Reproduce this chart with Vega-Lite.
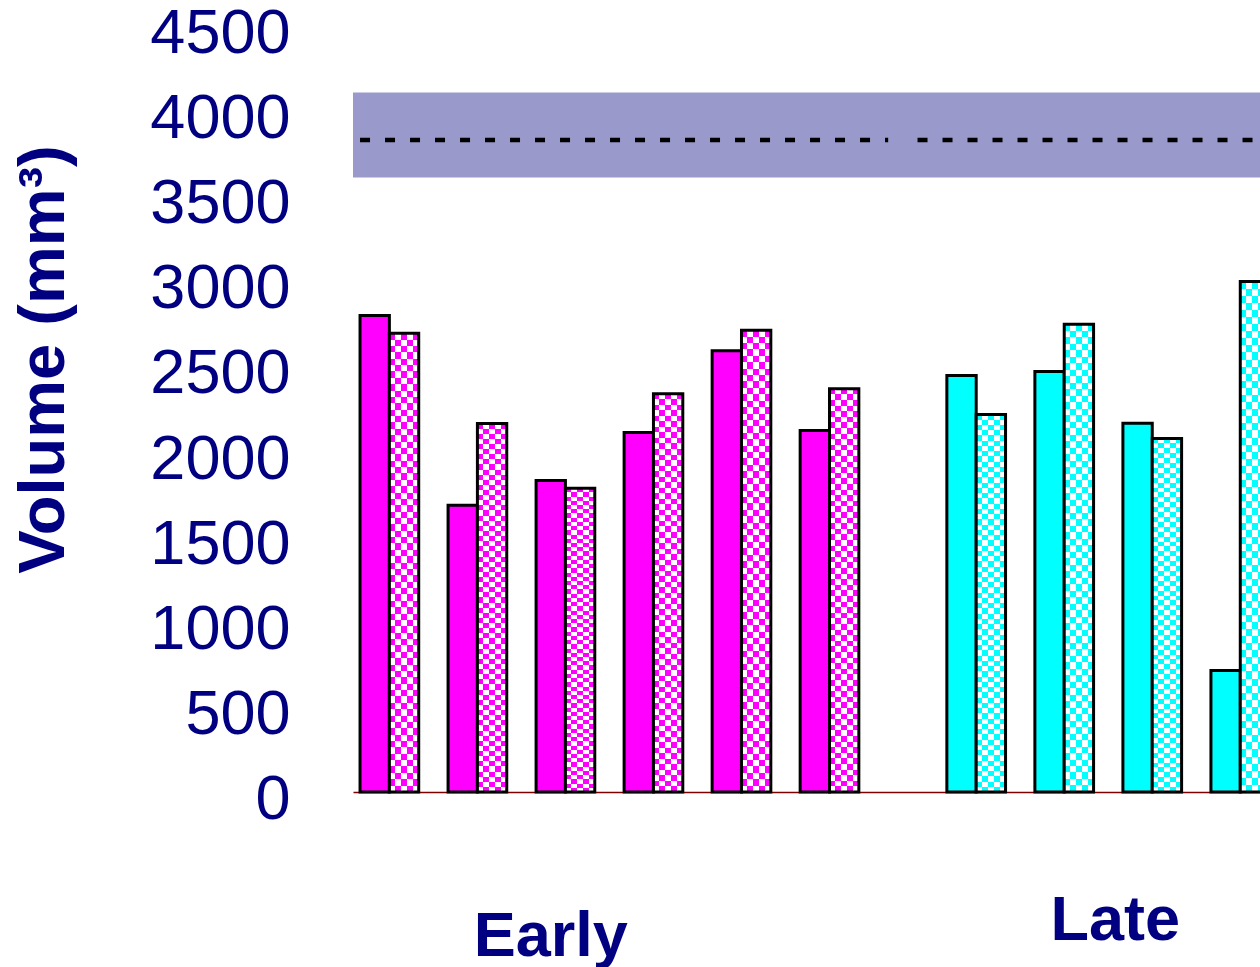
{
  "$schema": "https://vega.github.io/schema/vega-lite/v6.json",
  "autosize": {"type": "none"},
  "padding": {"left": 353, "top": 26, "right": -46, "bottom": 175},
  "width": 953,
  "height": 766,
  "background": "white",
  "config": {"view": {"stroke": null}, "font": "Liberation Sans"},
  "layer": [
    {
      "data": {"values": [{"lo": 3610, "hi": 4110}]},
      "mark": {"type": "rect", "color": "#9999CC"},
      "encoding": {
        "y": {"field": "lo", "type": "quantitative", "title": "Volume (mm³)", "scale": {"domain": [0, 4500], "nice": false, "zero": true}},
        "y2": {"field": "hi"}
      }
    },
    {
      "data": {"values": [{"x0": "E1a", "x1": "E6x", "mean": 3830}, {"x0": "G2", "x1": "L4x", "mean": 3830}]},
      "mark": {"type": "rule", "color": "black", "strokeWidth": 4.5, "strokeDash": [10, 15]},
      "encoding": {
        "x": {"field": "x0", "type": "nominal", "bandPosition": 0, "title": null,
          "scale": {"domain": ["E1a","E1b","E1x","E2a","E2b","E2x","E3a","E3b","E3x","E4a","E4b","E4x","E5a","E5b","E5x","E6a","E6b","E6x","G1","G2","L1a","L1b","L1x","L2a","L2b","L2x","L3a","L3b","L3x","L4a","L4b","L4x"], "paddingInner": 0, "paddingOuter": 0.24}},
        "x2": {"field": "x1", "bandPosition": 1},
        "y": {"field": "mean", "type": "quantitative", "title": "Volume (mm³)"}
      }
    },
    {
      "data": {"values": [
        {"bar": "E1a", "group": "Early", "visit": 1, "volume": 2800},
        {"bar": "E1b", "group": "Early", "visit": 2, "volume": 2695},
        {"bar": "E2a", "group": "Early", "visit": 1, "volume": 1685},
        {"bar": "E2b", "group": "Early", "visit": 2, "volume": 2165},
        {"bar": "E3a", "group": "Early", "visit": 1, "volume": 1830},
        {"bar": "E3b", "group": "Early", "visit": 2, "volume": 1785},
        {"bar": "E4a", "group": "Early", "visit": 1, "volume": 2112},
        {"bar": "E4b", "group": "Early", "visit": 2, "volume": 2340},
        {"bar": "E5a", "group": "Early", "visit": 1, "volume": 2592},
        {"bar": "E5b", "group": "Early", "visit": 2, "volume": 2713},
        {"bar": "E6a", "group": "Early", "visit": 1, "volume": 2124},
        {"bar": "E6b", "group": "Early", "visit": 2, "volume": 2369},
        {"bar": "L1a", "group": "Late", "visit": 1, "volume": 2447},
        {"bar": "L1b", "group": "Late", "visit": 2, "volume": 2218},
        {"bar": "L2a", "group": "Late", "visit": 1, "volume": 2471},
        {"bar": "L2b", "group": "Late", "visit": 2, "volume": 2748},
        {"bar": "L3a", "group": "Late", "visit": 1, "volume": 2167},
        {"bar": "L3b", "group": "Late", "visit": 2, "volume": 2077},
        {"bar": "L4a", "group": "Late", "visit": 1, "volume": 714},
        {"bar": "L4b", "group": "Late", "visit": 2, "volume": 2999}
      ]},
      "encoding": {
        "x": {
          "field": "bar", "type": "nominal", "title": null,
          "scale": {"domain": ["E1a","E1b","E1x","E2a","E2b","E2x","E3a","E3b","E3x","E4a","E4b","E4x","E5a","E5b","E5x","E6a","E6b","E6x","G1","G2","L1a","L1b","L1x","L2a","L2b","L2x","L3a","L3b","L3x","L4a","L4b","L4x"], "paddingInner": 0, "paddingOuter": 0.24},
          "axis": {
            "title": null, "ticks": false, "tickSize": 0, "grid": false,
            "domainColor": "#800000", "domainWidth": 1.5,
            "labelExpr": "datum.value == 'E3a' ? 'Early' : (datum.value == 'L2x' ? 'Late' : '')",
            "labelFont": "Liberation Sans", "labelFontSize": 63, "labelFontWeight": "bold", "labelColor": "#000080",
            "labelAngle": 0, "labelAlign": "center", "labelBaseline": "alphabetic",
            "labelPadding": {"condition": {"test": "datum.value == 'L2x'", "value": 147}, "value": 163},
            "labelOffset": {"condition": {"test": "datum.value == 'L2x'", "value": 7}, "value": 0},
            "labelOverlap": false, "labelBound": false, "labelFlush": false, "labelLimit": 0
          }
        },
        "y": {
          "field": "volume", "type": "quantitative", "title": "Volume (mm³)",
          "scale": {"domain": [0, 4500], "nice": false, "zero": true},
          "axis": {
            "values": [0, 500, 1000, 1500, 2000, 2500, 3000, 3500, 4000, 4500], "format": "d",
            "ticks": false, "domain": false, "grid": false,
            "labelFont": "Liberation Sans", "labelFontSize": 63, "labelColor": "#000080",
            "labelPadding": 63, "labelOffset": 7.5, "labelFlush": false, "labelBound": false, "labelOverlap": false,
            "titleFont": "Liberation Sans", "titleFontSize": 65, "titleFontWeight": "bold", "titleColor": "#000080",
            "titleX": -290, "titleY": 333, "titleBaseline": "alphabetic", "titleAngle": -90, "titleAlign": "center"
          }
        }
      },
      "layer": [
        {
          "transform": [{"filter": "datum.visit == 1"}],
          "mark": {"type": "bar", "stroke": "black", "strokeWidth": 3},
          "encoding": {
            "fill": {"field": "group", "type": "nominal", "legend": null,
              "scale": {"domain": ["Early", "Late"], "range": ["#FF00FF", "#00FFFF"]}}
          }
        },
        {
          "transform": [{"filter": "datum.visit == 2"}],
          "mark": {"type": "bar", "strokeWidth": 0,
            "fill": {"gradient": "linear", "x1": 0, "y1": 0, "x2": 1, "y2": 0, "stops": [
              {"offset": 0, "color": "black"}, {"offset": 0.2, "color": "black"},
              {"offset": 0.2, "color": "white"}, {"offset": 0.4, "color": "white"},
              {"offset": 0.4, "color": "black"}, {"offset": 0.6, "color": "black"},
              {"offset": 0.6, "color": "white"}, {"offset": 0.8, "color": "white"},
              {"offset": 0.8, "color": "black"}, {"offset": 1, "color": "black"}
            ]}}
        },
        {
          "transform": [{"filter": "datum.visit == 2"}],
          "mark": {"type": "bar", "strokeWidth": 0, "blend": "difference",
            "fill": {"gradient": "linear", "x1": 0, "y1": 0, "x2": 0, "y2": 1, "stops": [
              {"offset": 0, "color": "black"},
              {"offset": 0.0139, "color": "black"}, {"offset": 0.0139, "color": "white"},
              {"offset": 0.0278, "color": "white"}, {"offset": 0.0278, "color": "black"},
              {"offset": 0.0417, "color": "black"}, {"offset": 0.0417, "color": "white"},
              {"offset": 0.0556, "color": "white"}, {"offset": 0.0556, "color": "black"},
              {"offset": 0.0694, "color": "black"}, {"offset": 0.0694, "color": "white"},
              {"offset": 0.0833, "color": "white"}, {"offset": 0.0833, "color": "black"},
              {"offset": 0.0972, "color": "black"}, {"offset": 0.0972, "color": "white"},
              {"offset": 0.1111, "color": "white"}, {"offset": 0.1111, "color": "black"},
              {"offset": 0.125, "color": "black"}, {"offset": 0.125, "color": "white"},
              {"offset": 0.1389, "color": "white"}, {"offset": 0.1389, "color": "black"},
              {"offset": 0.1528, "color": "black"}, {"offset": 0.1528, "color": "white"},
              {"offset": 0.1667, "color": "white"}, {"offset": 0.1667, "color": "black"},
              {"offset": 0.1806, "color": "black"}, {"offset": 0.1806, "color": "white"},
              {"offset": 0.1944, "color": "white"}, {"offset": 0.1944, "color": "black"},
              {"offset": 0.2083, "color": "black"}, {"offset": 0.2083, "color": "white"},
              {"offset": 0.2222, "color": "white"}, {"offset": 0.2222, "color": "black"},
              {"offset": 0.2361, "color": "black"}, {"offset": 0.2361, "color": "white"},
              {"offset": 0.25, "color": "white"}, {"offset": 0.25, "color": "black"},
              {"offset": 0.2639, "color": "black"}, {"offset": 0.2639, "color": "white"},
              {"offset": 0.2778, "color": "white"}, {"offset": 0.2778, "color": "black"},
              {"offset": 0.2917, "color": "black"}, {"offset": 0.2917, "color": "white"},
              {"offset": 0.3056, "color": "white"}, {"offset": 0.3056, "color": "black"},
              {"offset": 0.3194, "color": "black"}, {"offset": 0.3194, "color": "white"},
              {"offset": 0.3333, "color": "white"}, {"offset": 0.3333, "color": "black"},
              {"offset": 0.3472, "color": "black"}, {"offset": 0.3472, "color": "white"},
              {"offset": 0.3611, "color": "white"}, {"offset": 0.3611, "color": "black"},
              {"offset": 0.375, "color": "black"}, {"offset": 0.375, "color": "white"},
              {"offset": 0.3889, "color": "white"}, {"offset": 0.3889, "color": "black"},
              {"offset": 0.4028, "color": "black"}, {"offset": 0.4028, "color": "white"},
              {"offset": 0.4167, "color": "white"}, {"offset": 0.4167, "color": "black"},
              {"offset": 0.4306, "color": "black"}, {"offset": 0.4306, "color": "white"},
              {"offset": 0.4444, "color": "white"}, {"offset": 0.4444, "color": "black"},
              {"offset": 0.4583, "color": "black"}, {"offset": 0.4583, "color": "white"},
              {"offset": 0.4722, "color": "white"}, {"offset": 0.4722, "color": "black"},
              {"offset": 0.4861, "color": "black"}, {"offset": 0.4861, "color": "white"},
              {"offset": 0.5, "color": "white"}, {"offset": 0.5, "color": "black"},
              {"offset": 0.5139, "color": "black"}, {"offset": 0.5139, "color": "white"},
              {"offset": 0.5278, "color": "white"}, {"offset": 0.5278, "color": "black"},
              {"offset": 0.5417, "color": "black"}, {"offset": 0.5417, "color": "white"},
              {"offset": 0.5556, "color": "white"}, {"offset": 0.5556, "color": "black"},
              {"offset": 0.5694, "color": "black"}, {"offset": 0.5694, "color": "white"},
              {"offset": 0.5833, "color": "white"}, {"offset": 0.5833, "color": "black"},
              {"offset": 0.5972, "color": "black"}, {"offset": 0.5972, "color": "white"},
              {"offset": 0.6111, "color": "white"}, {"offset": 0.6111, "color": "black"},
              {"offset": 0.625, "color": "black"}, {"offset": 0.625, "color": "white"},
              {"offset": 0.6389, "color": "white"}, {"offset": 0.6389, "color": "black"},
              {"offset": 0.6528, "color": "black"}, {"offset": 0.6528, "color": "white"},
              {"offset": 0.6667, "color": "white"}, {"offset": 0.6667, "color": "black"},
              {"offset": 0.6806, "color": "black"}, {"offset": 0.6806, "color": "white"},
              {"offset": 0.6944, "color": "white"}, {"offset": 0.6944, "color": "black"},
              {"offset": 0.7083, "color": "black"}, {"offset": 0.7083, "color": "white"},
              {"offset": 0.7222, "color": "white"}, {"offset": 0.7222, "color": "black"},
              {"offset": 0.7361, "color": "black"}, {"offset": 0.7361, "color": "white"},
              {"offset": 0.75, "color": "white"}, {"offset": 0.75, "color": "black"},
              {"offset": 0.7639, "color": "black"}, {"offset": 0.7639, "color": "white"},
              {"offset": 0.7778, "color": "white"}, {"offset": 0.7778, "color": "black"},
              {"offset": 0.7917, "color": "black"}, {"offset": 0.7917, "color": "white"},
              {"offset": 0.8056, "color": "white"}, {"offset": 0.8056, "color": "black"},
              {"offset": 0.8194, "color": "black"}, {"offset": 0.8194, "color": "white"},
              {"offset": 0.8333, "color": "white"}, {"offset": 0.8333, "color": "black"},
              {"offset": 0.8472, "color": "black"}, {"offset": 0.8472, "color": "white"},
              {"offset": 0.8611, "color": "white"}, {"offset": 0.8611, "color": "black"},
              {"offset": 0.875, "color": "black"}, {"offset": 0.875, "color": "white"},
              {"offset": 0.8889, "color": "white"}, {"offset": 0.8889, "color": "black"},
              {"offset": 0.9028, "color": "black"}, {"offset": 0.9028, "color": "white"},
              {"offset": 0.9167, "color": "white"}, {"offset": 0.9167, "color": "black"},
              {"offset": 0.9306, "color": "black"}, {"offset": 0.9306, "color": "white"},
              {"offset": 0.9444, "color": "white"}, {"offset": 0.9444, "color": "black"},
              {"offset": 0.9583, "color": "black"}, {"offset": 0.9583, "color": "white"},
              {"offset": 0.9722, "color": "white"}, {"offset": 0.9722, "color": "black"},
              {"offset": 0.9861, "color": "black"}, {"offset": 0.9861, "color": "white"},
              {"offset": 1, "color": "white"}
            ]}}
        },
        {
          "transform": [{"filter": "datum.visit == 2"}],
          "mark": {"type": "bar", "strokeWidth": 0, "blend": "screen"},
          "encoding": {
            "fill": {"field": "group", "type": "nominal", "legend": null,
              "scale": {"domain": ["Early", "Late"], "range": ["#FF00FF", "#00FFFF"]}}
          }
        },
        {
          "transform": [{"filter": "datum.visit == 2"}],
          "mark": {"type": "bar", "fill": null, "fillOpacity": 0, "stroke": "black", "strokeWidth": 3}
        }
      ]
    }
  ]
}
